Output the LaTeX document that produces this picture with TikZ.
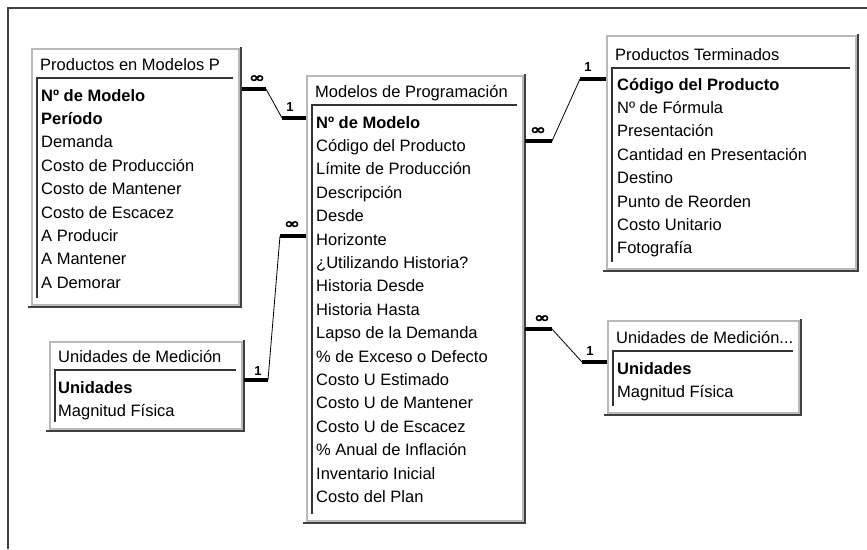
\documentclass[tikz,border=0pt]{standalone}
\usepackage{fontspec}
\setmainfont{Liberation Sans}
\newfontfamily\simbolos[FakeBold=3]{DejaVu Sans}

\tikzset{
  titulo/.style={anchor=base west,inner sep=0pt,font=\fontsize{16.5}{19}\selectfont},
  campo/.style={anchor=base west,inner sep=0pt,font=\fontsize{16.5}{19}\selectfont},
  marco/.style={draw=gray!55,line width=2.5pt,fill=white},
  sombra/.style={draw=black!75,line width=2pt},
  linea/.style={draw=black!80,line width=1.6pt},
  grueso/.style={line width=3.2pt},
  fino/.style={line width=0.8pt},
  muchos/.style={inner sep=0pt,font=\simbolos\fontsize{15}{15}\selectfont},
  uno/.style={inner sep=0pt,font=\bfseries\fontsize{13}{13}\selectfont}
}

% #1 nombre, #2 #3 esquina sup. izq., #4 #5 esquina inf. der., #6 separador, #7 titulo
\newcommand{\tabla}[7]{%
  \draw[marco] (#2,#3) rectangle (#4,#5);
  \draw[sombra] (#4+2,#3-2) -- (#4+2,#5+2) -- (#2-4,#5+2);
  \draw[linea] (#4-6,#6) -- (#2+5,#6) -- (#2+5,#5-7);
  \node[titulo] (#1-t) at (#2+8,#6-8) {#7};
}

\begin{document}
\begin{tikzpicture}[x=1pt,y=-1pt]
  \fill[white] (0,0) rectangle (867,549);
  \useasboundingbox (0,0) rectangle (867,549);
  \draw[black!75,line width=1.5pt] (8,549) -- (8,8) -- (867,8);

  \tabla{pmp}{32}{49}{239}{305}{78}{Productos en Modelos P}
  \foreach \txt [count=\i from 0] in {\textbf{Nº de Modelo},\textbf{Período},Demanda,Costo de Producción,
      Costo de Mantener,Costo de Escacez,A Producir,A Mantener,A Demorar}
    \node[campo] (pmp-\i) at (41,101+23.4*\i) {\txt};

  \tabla{mdp}{307}{76}{523}{521}{105}{Modelos de Programación}
  \foreach \txt [count=\i from 0] in {\textbf{Nº de Modelo},Código del Producto,Límite de Producción,
      Descripción,Desde,Horizonte,¿Utilizando Historia?,Historia Desde,Historia Hasta,
      Lapso de la Demanda,\% de Exceso o Defecto,Costo U Estimado,Costo U de Mantener,
      Costo U de Escacez,\% Anual de Inflación,Inventario Inicial,Costo del Plan}
    \node[campo] (mdp-\i) at (316,128+23.4*\i) {\txt};

  \tabla{pt}{607}{36}{856}{269}{68}{Productos Terminados}
  \foreach \txt [count=\i from 0] in {\textbf{Código del Producto},Nº de Fórmula,Presentación,
      Cantidad en Presentación,Destino,Punto de Reorden,Costo Unitario,Fotografía}
    \node[campo] (pt-\i) at (617,90+23.4*\i) {\txt};

  \tabla{umr}{608}{321}{799}{413}{351}{Unidades de Medición...}
  \foreach \txt [count=\i from 0] in {\textbf{Unidades},Magnitud Física}
    \node[campo] (umr-\i) at (617,374+23.4*\i) {\txt};

  \tabla{uml}{50}{342}{242}{429}{370}{Unidades de Medición}
  \foreach \txt [count=\i from 0] in {\textbf{Unidades},Magnitud Física}
    \node[campo] (uml-\i) at (58,393+23*\i) {\txt};

  \coordinate (r1a) at (242,89);  \coordinate (r1b) at (266,89);
  \coordinate (r1c) at (282,118); \coordinate (r1d) at (306,118);
  \coordinate (r2a) at (244,380); \coordinate (r2b) at (268,380);
  \coordinate (r2c) at (280,236); \coordinate (r2d) at (306,236);
  \coordinate (r3a) at (525,141); \coordinate (r3b) at (552,141);
  \coordinate (r3c) at (580,79);  \coordinate (r3d) at (606,79);
  \coordinate (r4a) at (525,329); \coordinate (r4b) at (552,329);
  \coordinate (r4c) at (582,362); \coordinate (r4d) at (607,362);

  \foreach \r in {r1,r2,r3,r4} {
    \draw[fino] (\r b) -- (\r c);
    \draw[grueso] (\r a) -- (\r b) (\r c) -- (\r d);
  }

  \node[muchos] (m1) at (257,79) {\scalebox{1.3}[1]{∞}};
  \node[uno] (u1) at (290,107) {1};
  \node[uno] (u2) at (258,371) {1};
  \node[muchos] (m2) at (292,225) {\scalebox{1.3}[1]{∞}};
  \node[muchos] (m3) at (538,131) {\scalebox{1.3}[1]{∞}};
  \node[uno] (u3) at (588,67) {1};
  \node[muchos] (m4) at (542,319) {\scalebox{1.3}[1]{∞}};
  \node[uno] (u4) at (590,351) {1};
\end{tikzpicture}
\end{document}
